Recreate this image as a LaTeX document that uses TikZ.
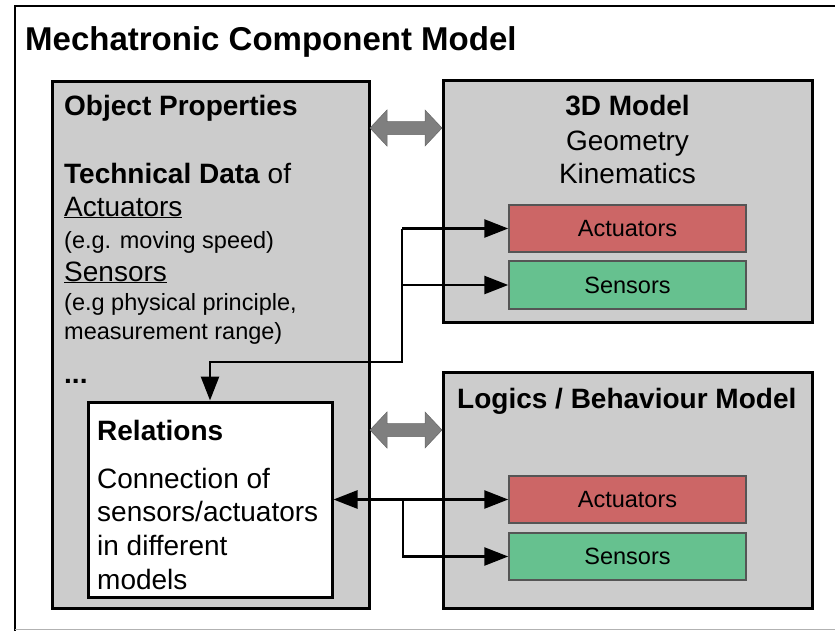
\documentclass[tikz,border=0pt]{standalone}
\usepackage{fontspec}
\setmainfont{Liberation Sans}
\usetikzlibrary{arrows.meta}
\definecolor{boxgray}{HTML}{CCCCCC}
\definecolor{actred}{HTML}{CC6666}
\definecolor{sengreen}{HTML}{66C18F}
\definecolor{bordergray}{HTML}{555555}
\definecolor{arrgray}{HTML}{7F7F7F}
\tikzset{
  bigbox/.style={draw=black, line width=3pt, fill=boxgray},
  whitebox/.style={draw=black, line width=3pt, fill=white},
  actbox/.style={draw=bordergray, line width=1.5pt, fill=actred},
  senbox/.style={draw=bordergray, line width=1.5pt, fill=sengreen},
  conn/.style={draw=black, line width=2.6pt},
  tip/.style={-{Triangle[length=24pt,width=18pt]}},
  dtip/.style={{Triangle[length=24pt,width=18pt]}-{Triangle[length=24pt,width=18pt]}},
  fatarrow/.style={fill=arrgray, draw=arrgray!80!black, line width=0.5pt},
  lbl/.style={anchor=base west, inner sep=0pt, font=\fontsize{28}{32}\selectfont},
  small/.style={anchor=base west, inner sep=0pt, font=\fontsize{23.5}{27}\selectfont},
  ctr/.style={anchor=base, inner sep=0pt, font=\fontsize{28}{32}\selectfont},
  boxtxt/.style={font=\fontsize{23.5}{27}\selectfont}
}
\begin{document}
\begin{tikzpicture}[x=1pt,y=-1pt]
\useasboundingbox (0,0) rectangle (835,630);
\begin{scope}
\clip (0,0) rectangle (835,630);
\draw[line width=2.5pt] (15,6) rectangle (850,640);
\draw[line width=1pt, black!30] (15,629) -- (835,629);
\end{scope}
\node[anchor=base west, inner sep=0pt, font=\bfseries\fontsize{33}{37}\selectfont] (title) at (25,50) {Mechatronic Component Model};

% main boxes
\path[bigbox] (52,81) rectangle (369,608);
\node[inner sep=0pt, minimum width=317pt, minimum height=527pt] (obj) at (210.5,344.5) {};
\path[bigbox] (443,80) rectangle (812,322);
\node[inner sep=0pt, minimum width=369pt, minimum height=242pt] (geo) at (627.5,201) {};
\path[bigbox] (443,372) rectangle (812,608);
\node[inner sep=0pt, minimum width=369pt, minimum height=236pt] (logic) at (627.5,490) {};

% left texts
\node[lbl, font=\bfseries\fontsize{28}{32}\selectfont] (t1) at (64,115) {Object Properties};
\node[lbl] (t2) at (64,183) {\textbf{Technical Data} of};
\node[lbl] (t3) at (64,216) {\underline{Actuators}};
\node[small] (t4) at (64,248) {(e.g. moving speed)};
\node[lbl] (t5) at (64,281) {\underline{Sensors}};
\node[small] (t6) at (64,310) {(e.g physical principle,};
\node[small] (t7) at (64,339) {measurement range)};
\node[lbl, font=\bfseries\fontsize{28}{32}\selectfont] (t8) at (64,383) {...};

% right top texts
\node[ctr, font=\bfseries\fontsize{28}{32}\selectfont] (g1) at (627.5,115) {3D Model};
\node[ctr] (g2) at (627.5,150) {Geometry};
\node[ctr] (g3) at (627.5,183) {Kinematics};

% logic title
\node[lbl, font=\bfseries\fontsize{28}{32}\selectfont] (l1) at (457,408) {Logics / Behaviour Model};

% relations box
\node[whitebox, inner sep=0pt, minimum width=244pt, minimum height=195pt] (rel) at (210,499.5) {};
\node[lbl, font=\bfseries\fontsize{28}{32}\selectfont] (r1) at (97,440) {Relations};
\node[lbl] (r2) at (97,488) {Connection of};
\node[lbl] (r3) at (97,521) {sensors/actuators};
\node[lbl] (r4) at (97,555) {in different};
\node[lbl] (r5) at (97,589) {models};

% small boxes
\node[actbox, boxtxt, inner sep=0pt, minimum width=237pt, minimum height=47pt] (a1) at (627.5,228.5) {Actuators};
\node[senbox, boxtxt, inner sep=0pt, minimum width=237pt, minimum height=48pt] (s1) at (627.5,285) {Sensors};
\node[actbox, boxtxt, inner sep=0pt, minimum width=237pt, minimum height=47pt] (a2) at (627.5,499.5) {Actuators};
\node[senbox, boxtxt, inner sep=0pt, minimum width=237pt, minimum height=47pt] (s2) at (627.5,556.5) {Sensors};

% fat double arrows
\foreach \yy/\nm in {128/fa1, 430/fa2} {
  \path[fatarrow] (370,\yy) -- (387,\yy-18) -- (387,\yy-6.5) -- (425,\yy-6.5) -- (425,\yy-18)
     -- (442,\yy) -- (425,\yy+18) -- (425,\yy+6.5) -- (387,\yy+6.5) -- (387,\yy+18) -- cycle;
}

% connectors
\coordinate (j1) at (402,228.5);
\coordinate (j2) at (402,362);
\draw[conn, tip] (j1) -- (a1.west);
\draw[conn, tip] (j1 |- s1.west) -- (s1.west);
\draw[conn, tip] (j1) -- (j2) -| (rel.north);
\draw[conn, dtip] (rel.east) -- (a2.west);
\coordinate (j3) at (403,499.5);
\draw[conn, tip] (j3) |- (s2.west);
\end{tikzpicture}
\end{document}
